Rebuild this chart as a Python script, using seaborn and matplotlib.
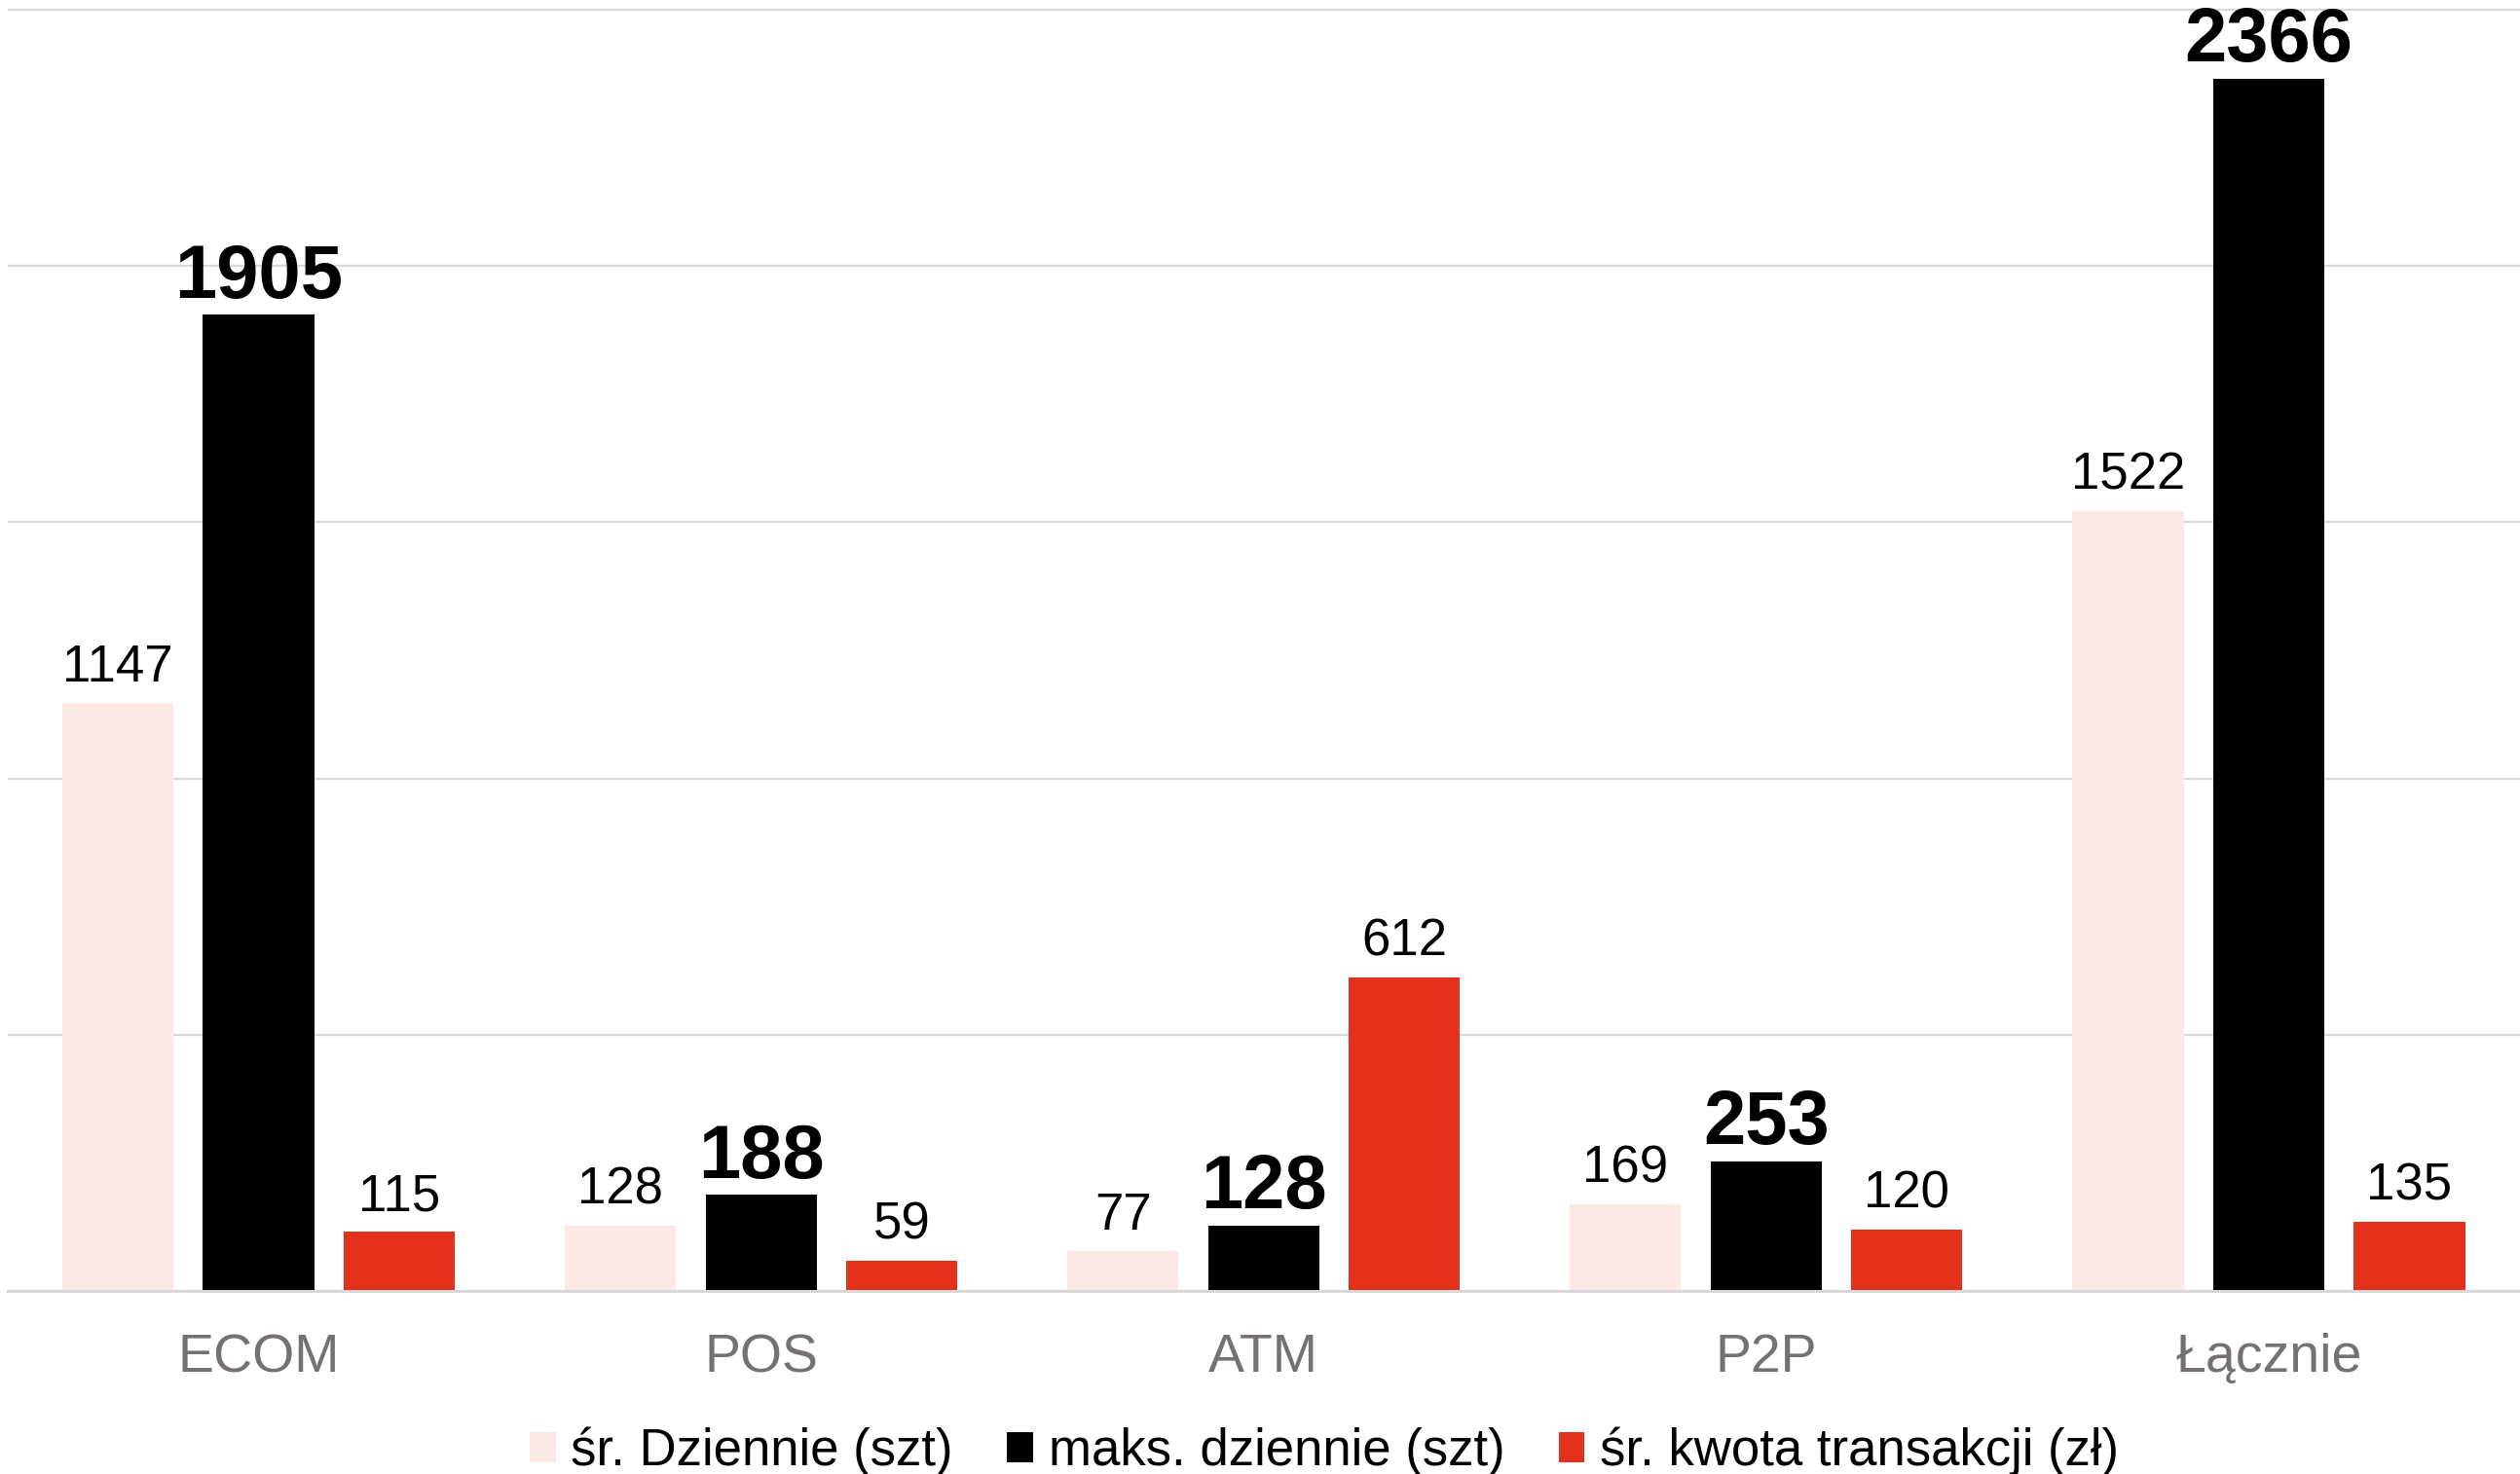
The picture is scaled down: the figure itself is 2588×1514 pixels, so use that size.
import pandas as pd
import seaborn as sns
import matplotlib.pyplot as plt

# Data
kanaly = ["ECOM", "POS", "ATM", "P2P", "Łącznie"]
sr_dziennie = [1147, 128, 77, 169, 1522]
maks_dziennie = [1905, 188, 128, 253, 2366]
sr_kwota = [115, 59, 612, 120, 135]

serie = ["śr. Dziennie (szt)", "maks. dziennie (szt)", "śr. kwota transakcji (zł)"]
kolory = ["#FCE8E6", "#000000", "#E3301A"]

df = pd.concat([
    pd.DataFrame({"kanal": kanaly, "wartosc": sr_dziennie, "seria": serie[0]}),
    pd.DataFrame({"kanal": kanaly, "wartosc": maks_dziennie, "seria": serie[1]}),
    pd.DataFrame({"kanal": kanaly, "wartosc": sr_kwota, "seria": serie[2]}),
], ignore_index=True)

sns.set_theme(style="white")
plt.rcParams["font.family"] = ["Liberation Sans", "DejaVu Sans"]

fig = plt.figure(figsize=(25.88, 15.14), dpi=100)
ax = fig.add_axes([0.0029, 0.1242, 0.9971, 0.8758])

sns.barplot(data=df, x="kanal", y="wartosc", hue="seria", palette=kolory,
            width=0.84, gap=0.21, saturation=1, linewidth=0, ax=ax)

ax.set_xlim(-0.5, 4.5)
ax.set_ylim(0, 2519)
ax.set_yticks([0, 500, 1000, 1500, 2000, 2500])
ax.yaxis.grid(True, color="#D9D9D9", linewidth=1.6)
ax.set_axisbelow(True)
ax.set_yticklabels([])
ax.tick_params(axis="y", length=0)
ax.tick_params(axis="x", length=0, pad=31, labelsize=40, labelcolor="#767171")
ax.set_xlabel("")
ax.set_ylabel("")
for s in ["top", "right", "left"]:
    ax.spines[s].set_visible(False)
ax.spines["bottom"].set_color("#D9D9D9")
ax.spines["bottom"].set_linewidth(2.2)

# value labels: max series bold and bigger
for i, cont in enumerate(ax.containers):
    if i == 1:
        ax.bar_label(cont, fmt="%d", padding=1, fontsize=56, fontweight="bold", color="black")
    else:
        ax.bar_label(cont, fmt="%d", padding=8, fontsize=38, color="black")

ax.legend_.remove()
handles, labels = ax.get_legend_handles_labels()
leg = fig.legend(handles, labels, loc="center", bbox_to_anchor=(0.5255, 0.0152),
                 ncol=3, frameon=False, fontsize=38, handlelength=0.5, handleheight=0.5,
                 handletextpad=0.3, columnspacing=1.05)
for t in leg.get_texts():
    t.set_color("black")

fig.savefig("out.png", dpi=100)
